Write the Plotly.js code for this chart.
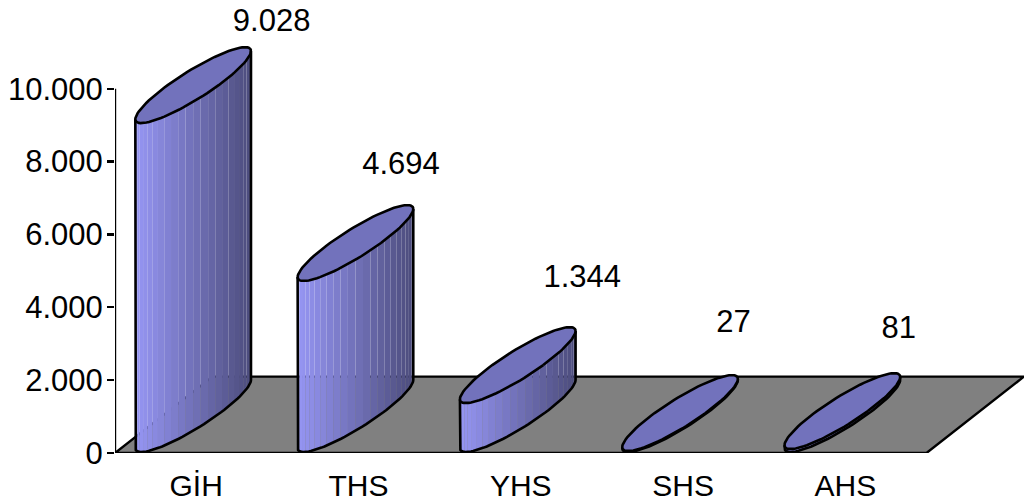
<!DOCTYPE html>
<html><head><meta charset="utf-8">
<script src="https://cdn.plot.ly/plotly-3.0.1.min.js"></script>
<style>html,body{margin:0;padding:0;background:#fff}#c{width:1024px;height:503px}</style>
</head><body><div id="c"></div>
<script>
const categories = ["GİH","THS","YHS","SHS","AHS"];
const values = [9028,4694,1344,27,81];
const valueLabels = ["9.028","4.694","1.344","27","81"];
const yTicks = [0,2000,4000,6000,8000,10000];
const yTickLabels = ["0","2.000","4.000","6.000","8.000","10.000"];

// Scale and oblique-projection settings (pixels)
const W=1024,H=503,L=115,B=453.5,catPx=162.3,valPx=364.7/10000;
const depthX=97.5,depthY=76.5;
const uX=25.5,vX=51.9,vY=38,baseY=39,shiftX=-3;
const labelDx=[75.5,42.5,61.5,50.5,53.5], labelLift=[62,77,86,89,81];
const N=24;
const px=d=>d/catPx, py=d=>d/valPx;
const t0=Math.atan2(vX,uX);
const ell=(i,val,t)=>[i+px(shiftX+uX*Math.cos(t)+vX*Math.sin(t)), val+py(baseY+vY*Math.sin(t))];
const arc=(i,val,a,b,n)=>{const o=[];for(let k=0;k<=n;k++){o.push(ell(i,val,a+(b-a)*k/n));}return o;};
const lerp=(a,b,f)=>Math.round(a+(b-a)*f);
const xOf=t=>(uX*Math.cos(t)+vX*Math.sin(t)+Math.hypot(uX,vX))/(2*Math.hypot(uX,vX));
const data=[];
// floor
data.push({type:'scatter',mode:'lines',x:[-0.5,4.5,4.5+px(depthX),-0.5+px(depthX),-0.5],
  y:[0,0,py(depthY),py(depthY),0],fill:'toself',fillcolor:'#808080',line:{color:'#000',width:2.4},hoverinfo:'skip',cliponaxis:false});
// cylinder bodies as vertical colour strips
for(let s=0;s<N;s++){
  const a=t0-Math.PI+Math.PI*s/N,b=t0-Math.PI+Math.PI*(s+1)/N;
  const f=xOf((a+b)/2);
  const col=`rgb(${lerp(150,76,f)},${lerp(150,76,f)},${lerp(244,124,f)})`;
  const xs=[],ys=[];
  values.forEach((v,i)=>{
    const p=[ell(i,0,a),ell(i,0,b),ell(i,v,b),ell(i,v,a),ell(i,0,a)];
    p.forEach(q=>{xs.push(q[0]);ys.push(q[1]);});
    xs.push(null);ys.push(null);
  });
  data.push({type:'scatter',mode:'lines',x:xs,y:ys,fill:'toself',fillcolor:col,line:{width:0,color:col},hoverinfo:'skip',cliponaxis:false});
}
// outlines and top caps
values.forEach((v,i)=>{
  const side=[ell(i,v,t0-Math.PI),...arc(i,0,t0-Math.PI,t0,50),ell(i,v,t0)];
  data.push({type:'scatter',mode:'lines',x:side.map(q=>q[0]),y:side.map(q=>q[1]),line:{color:'#000',width:2.6},hoverinfo:'skip',cliponaxis:false});
  const top=arc(i,v,0,2*Math.PI,90);
  data.push({type:'scatter',mode:'lines',x:top.map(q=>q[0]),y:top.map(q=>q[1]),fill:'toself',fillcolor:'#7272bc',line:{color:'#000',width:2.6},hoverinfo:'skip',cliponaxis:false});
});
// value axis line
data.push({type:'scatter',mode:'lines',x:[-0.5,-0.5],y:[0,10000],line:{color:'#000',width:2.4},hoverinfo:'skip',cliponaxis:false});
// value labels
data.push({type:'scatter',mode:'text',x:values.map((v,i)=>i+px(labelDx[i])),y:values.map((v,i)=>v+py(baseY+labelLift[i])),
  text:valueLabels,textposition:'middle center',textfont:{family:'Liberation Sans, Arial, sans-serif',size:31,color:'#000'},hoverinfo:'skip',cliponaxis:false});
const layout={
  width:W,height:H,showlegend:false,paper_bgcolor:'#fff',plot_bgcolor:'rgba(0,0,0,0)',
  margin:{l:L,r:0,t:0,b:H-B,pad:0},
  font:{family:'Liberation Sans, Arial, sans-serif',size:31,color:'#000'},
  xaxis:{range:[-0.5,-0.5+(W-L)/catPx],tickvals:categories.map((c,i)=>i),ticktext:categories,ticks:'',showgrid:false,zeroline:false,showline:false,
    tickfont:{size:30},ticklabelstandoff:12},
  yaxis:{range:[0,B/valPx],tickvals:yTicks,ticktext:yTickLabels,ticks:'outside',ticklen:7,tickwidth:2.4,tickcolor:'#000',showgrid:false,zeroline:false,showline:false,
    tickfont:{size:31},ticklabelstandoff:-2}
};
Plotly.newPlot('c',data,layout,{displayModeBar:false,staticPlot:true});
</script></body></html>
